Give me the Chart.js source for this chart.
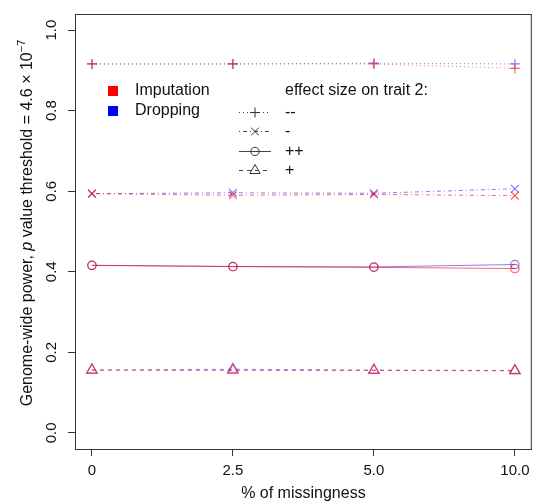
<!DOCTYPE html>
<html>
<head>
<meta charset="utf-8">
<script src="https://cdn.jsdelivr.net/npm/chart.js@4.4.0/dist/chart.umd.min.js"></script>
<style>
  html, body { margin: 0; padding: 0; background: #fff; }
  #wrap { width: 539px; height: 504px; }
</style>
</head>
<body>
<div id="wrap"><canvas id="chart" width="539" height="504"></canvas></div>
<script>
// x categories (% of missingness), evenly spaced like the original plot
const xLabels = ['0', '2.5', '5.0', '10.0'];
const yTicks = [0, 0.2, 0.4, 0.6, 0.8, 1.0];

// effect size on trait 2
const effectNames = ['--', '-', '++', '+'];

// Imputation (red)
const impVeryNeg = [0.916, 0.916, 0.916, 0.905];
const impNeg     = [0.594, 0.590, 0.592, 0.589];
const impVeryPos = [0.416, 0.413, 0.411, 0.408];
const impPos     = [0.156, 0.155, 0.155, 0.154];

// Dropping (blue)
const dropVeryNeg = [0.916, 0.916, 0.918, 0.916];
const dropNeg     = [0.594, 0.596, 0.595, 0.606];
const dropVeryPos = [0.416, 0.413, 0.412, 0.418];
const dropPos     = [0.156, 0.158, 0.156, 0.155];

const RED = 'rgba(255,0,0,0.6)';
const BLUE = 'rgba(0,0,255,0.5)';
const FONT = '"Liberation Sans", Arial, Helvetica, sans-serif';

// line style per effect: point symbol, symbol size and dash
const styles = [
    { point: 'cross', r: 5, dash: [1, 3] },
    { point: 'crossRot', r: 5.5, dash: [1, 3, 4, 3] },
    { point: 'circle', r: 4.2, dash: [] },
    { point: 'triangle', r: 6, dash: [4, 4] }
];

function toPoints(arr) {
    return arr.map((v, i) => ({ x: i, y: v }));
}

function makeSet(label, values, color, style) {
    return {
        label: label,
        data: toPoints(values),
        borderColor: color,
        backgroundColor: 'rgba(0,0,0,0)',
        borderWidth: 1,
        borderDash: style.dash,
        pointStyle: style.point,
        pointRadius: style.r,
        pointBorderWidth: 1.2,
        pointBorderColor: color,
        pointBackgroundColor: 'rgba(0,0,0,0)',
        tension: 0
    };
}

const impSeries = [impVeryNeg, impNeg, impVeryPos, impPos];
const dropSeries = [dropVeryNeg, dropNeg, dropVeryPos, dropPos];
const datasets = [];
// first datasets are drawn on top, so imputation (red) goes first
impSeries.forEach((s, i) => datasets.push(makeSet('Imputation ' + effectNames[i], s, RED, styles[i])));
dropSeries.forEach((s, i) => datasets.push(makeSet('Dropping ' + effectNames[i], s, BLUE, styles[i])));

// box, y tick labels, legends and the axis titles
const decorations = {
    id: 'decorations',
    afterDraw(chart) {
        const ctx = chart.ctx;
        const a = chart.chartArea;
        const yScale = chart.scales.y;
        ctx.save();
        ctx.strokeStyle = '#333';
        ctx.lineWidth = 1;
        ctx.strokeRect(a.left + 0.5, a.top + 0.5, a.right - a.left - 1, a.bottom - a.top);

        // y tick labels, rotated like base R
        ctx.fillStyle = '#111';
        ctx.font = '15px ' + FONT;
        ctx.textAlign = 'center';
        ctx.textBaseline = 'alphabetic';
        yTicks.forEach(v => {
            const y = yScale.getPixelForValue(v);
            ctx.save();
            ctx.translate(56, y);
            ctx.rotate(-Math.PI / 2);
            ctx.fillText(v.toFixed(1), 0, 0);
            ctx.restore();
        });

        // colour legend
        ctx.font = '16px ' + FONT;
        ctx.textBaseline = 'middle';
        ctx.textAlign = 'left';
        ctx.fillStyle = '#ff0000';
        ctx.fillRect(108, 86, 10, 10);
        ctx.fillStyle = '#0000ff';
        ctx.fillRect(108, 106, 10, 10);
        ctx.fillStyle = '#111';
        ctx.fillText('Imputation', 135, 91);
        ctx.fillText('Dropping', 135, 111);

        // line style legend
        ctx.fillText('effect size on trait 2:', 285, 91);
        const rows = [112, 131, 151, 170];
        rows.forEach((y, i) => {
            ctx.strokeStyle = '#444';
            ctx.lineWidth = 1;
            ctx.setLineDash(styles[i].dash);
            ctx.beginPath();
            ctx.moveTo(239, y + 0.5);
            ctx.lineTo(271, y + 0.5);
            ctx.stroke();
            ctx.setLineDash([]);
            ctx.fillStyle = 'rgba(0,0,0,0)';
            ctx.strokeStyle = '#333';
            Chart.helpers.drawPoint(ctx, {
                pointStyle: styles[i].point, radius: styles[i].r, borderWidth: 1.1
            }, 255, y + 0.5);
            ctx.fillStyle = '#111';
            ctx.fillText(effectNames[i], 285, y + 1);
        });

        // x title
        ctx.font = '16px ' + FONT;
        ctx.textAlign = 'center';
        ctx.textBaseline = 'middle';
        ctx.fillText('% of missingness', (a.left + a.right) / 2, 494);

        // y title with italic p and superscript
        ctx.textBaseline = 'alphabetic';
        const parts = [
            { t: 'Genome-wide power, ', f: '16px ' + FONT, dy: 0 },
            { t: 'p', f: 'italic 16px ' + FONT, dy: 0 },
            { t: ' value threshold = 4.6 \u00d7 10', f: '16px ' + FONT, dy: 0 },
            { t: '\u22127', f: '11px ' + FONT, dy: -7 }
        ];
        let total = 0;
        parts.forEach(p => { ctx.font = p.f; p.w = ctx.measureText(p.t).width; total += p.w; });
        ctx.translate(32, 223);
        ctx.rotate(-Math.PI / 2);
        ctx.textAlign = 'left';
        let x = -total / 2;
        parts.forEach(p => {
            ctx.font = p.f;
            ctx.fillText(p.t, x, p.dy);
            x += p.w;
        });
        ctx.restore();
    }
};

new Chart(document.getElementById('chart'), {
    type: 'line',
    data: { datasets: datasets },
    options: {
        responsive: false,
        animation: false,
        layout: { padding: { top: 14, right: 2, left: 0, bottom: 0 } },
        plugins: {
            legend: { display: false },
            tooltip: { enabled: false }
        },
        scales: {
            x: {
                type: 'linear',
                min: -0.12,
                max: 3.12,
                afterBuildTicks: scale => { scale.ticks = xLabels.map((l, i) => ({ value: i })); },
                afterFit: scale => { scale.height = 55; },
                ticks: {
                    color: '#111',
                    font: { size: 15, family: FONT },
                    padding: 6,
                    maxRotation: 0,
                    callback: v => xLabels[v]
                },
                grid: { drawOnChartArea: false, tickLength: 7, color: '#333' },
                border: { display: true, color: '#333' }
            },
            y: {
                type: 'linear',
                min: -0.04,
                max: 1.04,
                afterBuildTicks: scale => { scale.ticks = yTicks.map(v => ({ value: v })); },
                afterFit: scale => { scale.width = 75; },
                ticks: { display: false },
                grid: { drawOnChartArea: false, tickLength: 7, color: '#333' },
                border: { display: true, color: '#333' }
            }
        }
    },
    plugins: [decorations]
});
</script>
</body>
</html>
